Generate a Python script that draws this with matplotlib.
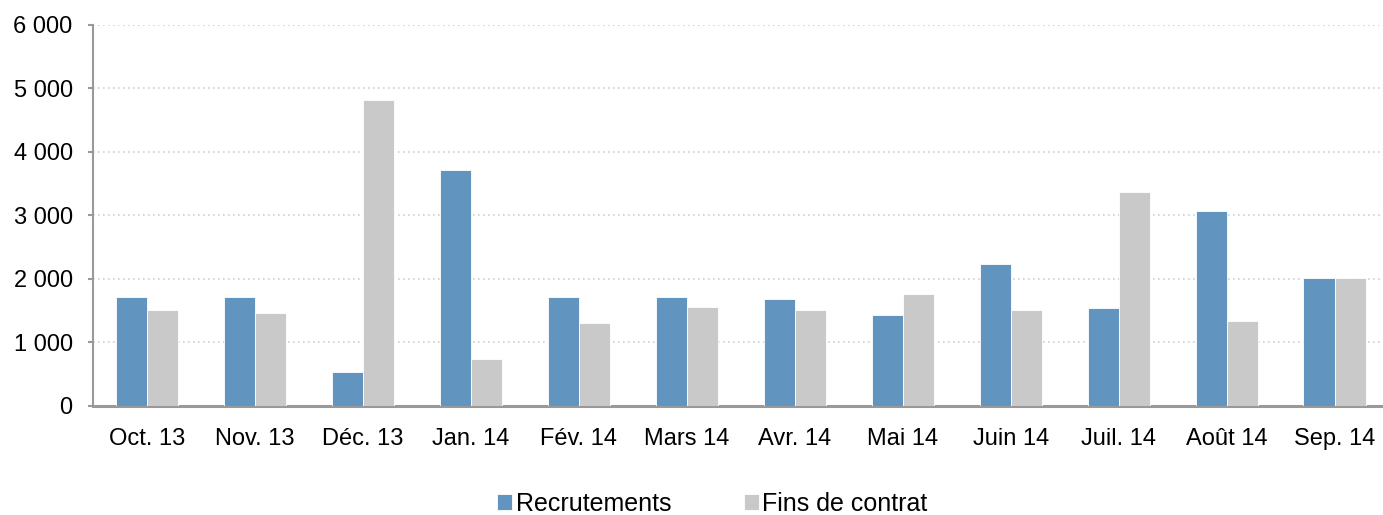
import numpy as np
import matplotlib.pyplot as plt
from matplotlib.ticker import FuncFormatter

plt.rcParams['font.family'] = ['Liberation Sans', 'DejaVu Sans']

mois = ['Oct. 13', 'Nov. 13', 'Déc. 13', 'Jan. 14', 'Fév. 14', 'Mars 14',
        'Avr. 14', 'Mai 14', 'Juin 14', 'Juil. 14', 'Août 14', 'Sep. 14']
recrutements = [1720, 1720, 535, 3710, 1720, 1720, 1680, 1425, 2230, 1550, 3075, 2020]
fins_contrat = [1510, 1470, 4815, 745, 1300, 1555, 1510, 1760, 1510, 3370, 1335, 2020]

fig = plt.figure(figsize=(13.83, 5.15), dpi=100)
ax = fig.add_axes([0.0672, 0.2117, 0.937, 0.740])

x = np.arange(len(mois))
w = 0.29
ax.bar(x - w / 2, recrutements, w, color='#6194be', edgecolor='white', linewidth=0.6,
       label='Recrutements', zorder=3)
ax.bar(x + w / 2, fins_contrat, w, color='#c9c9c9', edgecolor='white', linewidth=0.6,
       label='Fins de contrat', zorder=3)

ax.set_xlim(-0.5, len(mois) - 0.5)
ax.set_ylim(0, 6000)
ax.set_yticks(range(0, 6001, 1000))
ax.yaxis.set_major_formatter(FuncFormatter(lambda v, p: f'{int(v):,}'.replace(',', ' ')))
ax.set_xticks(x)
ax.set_xticklabels(mois)

ax.yaxis.grid(True, linestyle=(0, (1, 2)), color='#d0d0d0', linewidth=1.2, zorder=0)
for s in ['top', 'right']:
    ax.spines[s].set_visible(False)
ax.spines['left'].set_color('#999999')
ax.spines['left'].set_linewidth(1.5)
ax.spines['bottom'].set_color('#999999')
ax.spines['bottom'].set_linewidth(2.2)
ax.tick_params(axis='y', length=3.6, color='#999999', width=1.5, labelsize=17, pad=11)
ax.tick_params(axis='x', length=0, labelsize=17, pad=16)

fig.legend(loc='lower center', bbox_to_anchor=(0.515, -0.045), ncol=2, frameon=False,
           fontsize=18, handlelength=0.6, handleheight=0.6, handletextpad=0.15,
           columnspacing=2.9)

fig.savefig('out.png', dpi=100)
